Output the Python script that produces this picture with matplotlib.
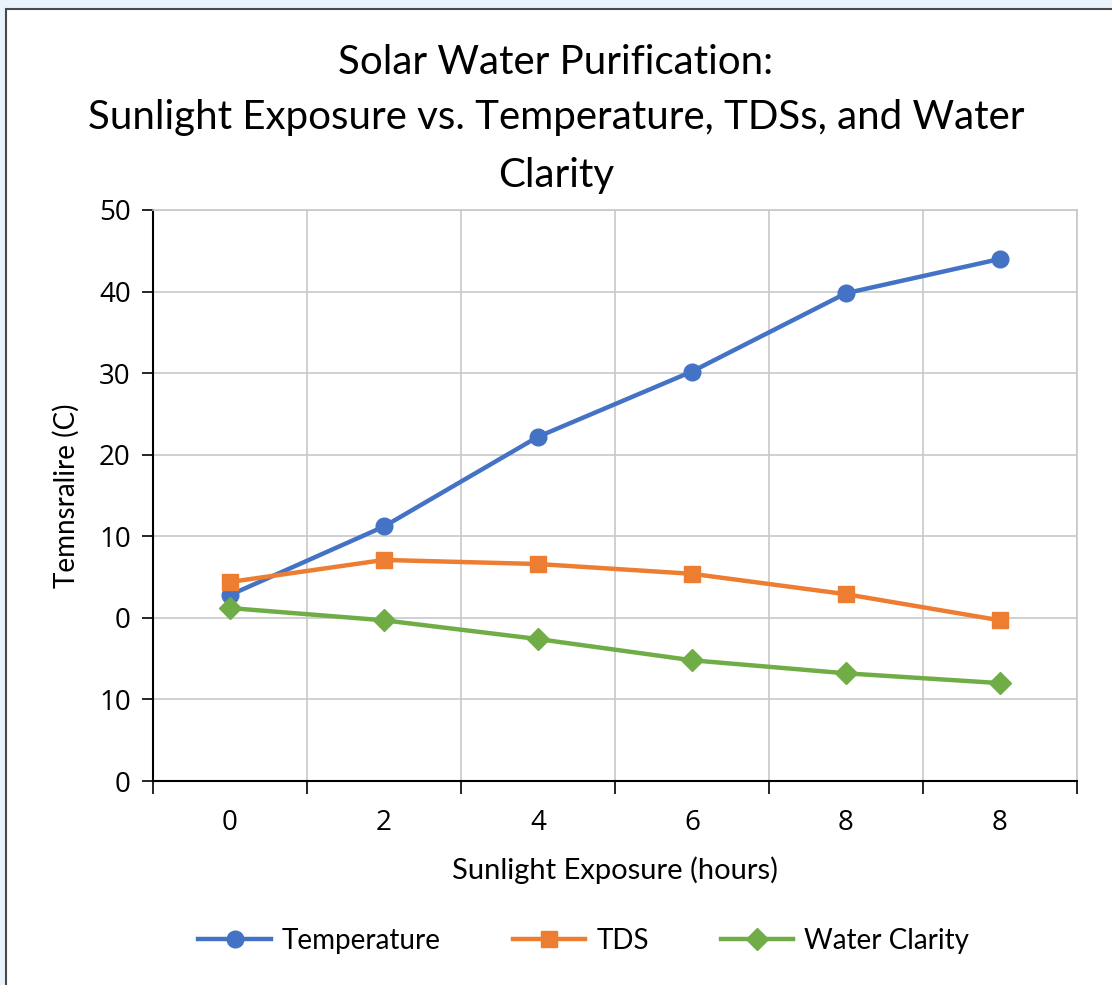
import matplotlib
matplotlib.use("Agg")
import matplotlib.pyplot as plt
from matplotlib.patches import Rectangle
from matplotlib.ticker import FixedLocator

categories = ["0", "2", "4", "6", "8", "8"]
temperature = [2.8, 11.2, 22.2, 30.2, 39.8, 44.0]
tds = [4.4, 7.1, 6.6, 5.4, 2.9, -0.3]
clarity = [1.2, -0.3, -2.6, -5.2, -6.8, -8.0]
ytick_values = [-20, -10, 0, 10, 20, 30, 40, 50]
ytick_labels = ["0", "10", "0", "10", "20", "30", "40", "50"]

FONT = ["Lato", "DejaVu Sans"]
TICKFONT = ["Open Sans", "DejaVu Sans"]
plt.rcParams["font.family"] = FONT

W, H = 1112, 985
fig = plt.figure(figsize=(W / 100, H / 100), dpi=100)
fig.patch.set_facecolor("#e9f3fc")
fig.add_artist(Rectangle((6 / W, -0.05), 1.2, (H - 9) / H + 0.05, transform=fig.transFigure,
                         facecolor="white", edgecolor="#4a4a4a", linewidth=1.5, zorder=0))

ax = fig.add_axes([153 / W, 1 - 781 / H, (1077 - 153) / W, (781 - 210) / H])
x = list(range(len(categories)))

ax.plot(x, temperature, color="#4472C4", lw=3.2, marker="o", ms=12, label="Temperature", zorder=3)
ax.plot(x, tds, color="#ED7D31", lw=3.2, marker="s", ms=12, label="TDS", zorder=3)
ax.plot(x, clarity, color="#70AD47", lw=3.2, marker="D", ms=11, label="Water Clarity", zorder=3)

ax.set_xlim(-0.5, len(categories) - 0.5)
ax.set_ylim(-20, 50)
ax.set_xticks(x)
ax.set_xticklabels(categories, fontsize=20, family=TICKFONT)
ax.xaxis.set_minor_locator(FixedLocator([i - 0.5 for i in range(len(categories) + 1)]))
ax.tick_params(axis="x", which="major", length=0, pad=20)
ax.tick_params(axis="x", which="minor", length=9, width=1.2, color="black")
ax.set_yticks(ytick_values)
ax.set_yticklabels(ytick_labels, fontsize=20, family=TICKFONT)
ax.tick_params(axis="y", length=8, width=1.2, pad=8)

ax.grid(True, which="minor", axis="x", color="#c8c8c8", lw=1.2)
ax.grid(True, which="major", axis="y", color="#c8c8c8", lw=1.2)
for s in ["top", "right"]:
    ax.spines[s].set_color("#c8c8c8")
    ax.spines[s].set_linewidth(1.2)
for s in ["left", "bottom"]:
    ax.spines[s].set_color("black")
    ax.spines[s].set_linewidth(1.5)

ax.set_xlabel("Sunlight Exposure (hours)", fontsize=21, labelpad=14)
ax.set_ylabel("Temnsralire (C)", fontsize=20, labelpad=14)

fig.text(0.5, 1 - 62 / H, "Solar Water Purification:", ha="center", va="center", fontsize=29)
fig.text(0.5, 1 - 118 / H, "Sunlight Exposure vs. Temperature, TDSs, and Water", ha="center", va="center", fontsize=29)
fig.text(0.5, 1 - 175 / H, "Clarity", ha="center", va="center", fontsize=29)

fig.legend(loc="center", bbox_to_anchor=(0.525, 1 - 941 / H), ncol=3, frameon=False,
           fontsize=20, handlelength=2.6, columnspacing=2.6, handletextpad=0.4)

fig.savefig("out.png", dpi=100, facecolor=fig.get_facecolor())
